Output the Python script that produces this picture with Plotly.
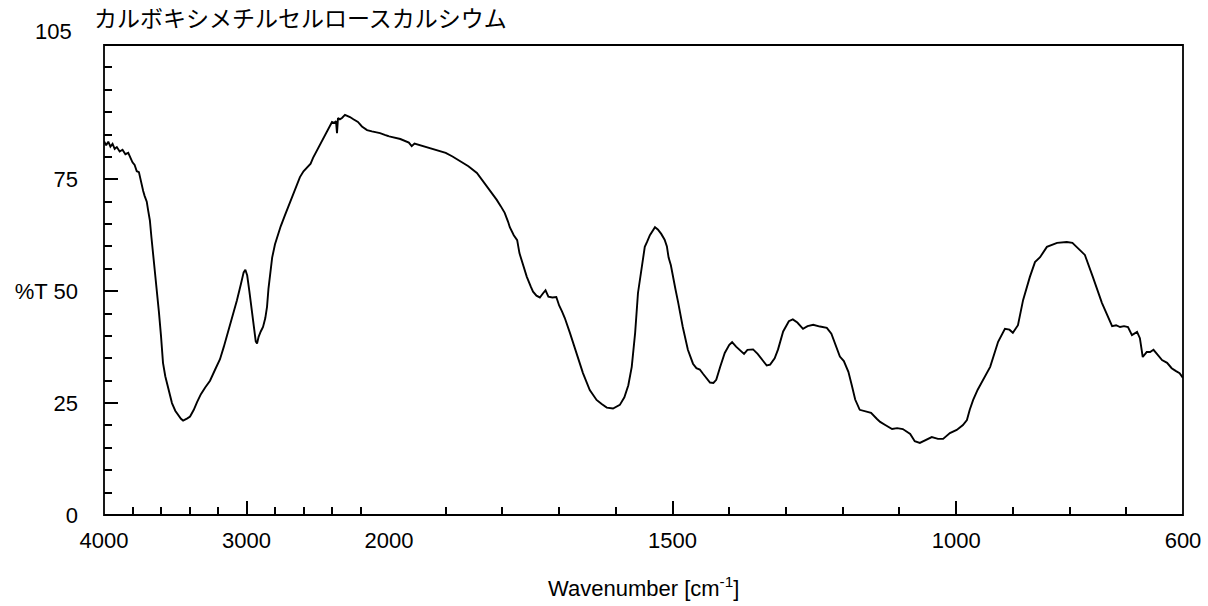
import plotly.graph_objects as go

# IR spectrum of carboxymethylcellulose calcium (wavenumber in cm-1, %T)
wavenumber = [
    4000, 3985, 3970, 3955, 3940, 3925, 3910, 3890, 3870, 3850, 3830, 3815,
    3800, 3785, 3770, 3755, 3745, 3735, 3725, 3715, 3700, 3690, 3678, 3667,
    3656, 3642, 3628, 3615, 3600, 3586, 3570, 3555, 3540, 3523, 3500, 3481,
    3460, 3445, 3430, 3415, 3396, 3370, 3347, 3320, 3290, 3256, 3220, 3186,
    3160, 3137, 3100, 3067, 3040, 3020, 3008, 2995, 2980, 2965, 2950, 2935,
    2926, 2915, 2900, 2884, 2868, 2856, 2846, 2835, 2820, 2800, 2780, 2760,
    2730, 2695, 2660, 2625, 2600, 2575, 2550, 2533, 2500, 2463, 2430, 2400,
    2385, 2372, 2365, 2358, 2345, 2330, 2309, 2290, 2274, 2250, 2218, 2190,
    2154, 2120, 2090, 2063, 2030, 2000,
    1993, 1980, 1965, 1960, 1955, 1940, 1925, 1915, 1900, 1888, 1875, 1860,
    1845, 1836, 1827, 1818, 1810, 1803, 1796, 1790, 1787, 1780, 1774, 1770,
    1765, 1757, 1750, 1746, 1740, 1734, 1728, 1724, 1719, 1712, 1705, 1700,
    1695, 1690, 1681, 1669, 1658, 1646, 1634, 1625, 1616, 1605, 1593, 1585,
    1578, 1572, 1566, 1561, 1554, 1549, 1545, 1540, 1531, 1526, 1520, 1514,
    1510, 1507, 1503, 1499, 1495, 1490, 1482, 1473, 1464, 1458, 1452, 1446,
    1440, 1434, 1428, 1423, 1416, 1408, 1400, 1395, 1388, 1380, 1374, 1368,
    1358, 1350, 1342, 1334, 1328, 1320, 1314, 1305, 1295, 1288, 1280, 1270,
    1262, 1252, 1240, 1228, 1220, 1212, 1205, 1198, 1190, 1184, 1178, 1170,
    1160, 1150, 1140, 1134, 1125, 1113, 1104, 1094, 1081, 1073, 1064, 1051,
    1043, 1032, 1023, 1011, 999, 988, 981, 976, 970, 962, 953, 940,
    926, 914, 906, 900, 891, 882, 870, 861, 852, 840, 822, 805,
    795, 787, 773, 759, 743, 725, 718, 711, 704, 697, 690, 681,
    676, 671, 664, 658, 652, 646, 637, 628, 620, 613, 606, 600,
]
transmittance = [
    83.5, 82.6, 83.4, 82.3, 82.9, 81.8, 82.2, 81.2, 81.6, 80.6, 80.9, 79.8,
    78.8, 78.2, 76.8, 76.6, 75.2, 73.2, 72.4, 71.3, 70.0, 68.0, 65.8, 62.0,
    58.5, 54.5, 50.9, 45.5, 40.0, 34.0, 31.0, 29.0, 27.0, 25.0, 23.3, 22.3,
    21.5, 21.1, 21.3, 21.6, 22.0, 23.5, 25.2, 27.0, 28.5, 30.0, 32.5, 34.8,
    37.5, 40.0, 44.0, 48.0, 51.5, 54.2, 54.8, 53.5, 50.0, 46.0, 42.0, 38.8,
    38.3, 39.8, 41.0, 42.0, 44.0, 46.5, 50.5, 54.1, 57.5, 60.5, 62.8, 64.5,
    67.0, 69.8, 72.5, 75.5, 76.8, 77.7, 78.5, 79.8, 81.8, 83.8, 86.0, 87.8,
    87.6, 88.0, 85.3, 88.7, 88.4, 88.7, 89.4, 89.2, 88.9, 88.4, 87.8, 86.8,
    86.0, 85.7, 85.5, 85.3, 84.9, 84.6,
    84.4, 84.0, 83.2, 82.4, 83.0, 82.4, 81.9, 81.5, 80.9, 80.1, 79.0, 77.9,
    76.4, 74.9, 73.3, 71.9, 70.4, 69.0, 67.5, 65.5, 64.3, 62.5, 61.4, 58.5,
    56.5, 53.2, 51.0, 49.9, 49.0, 48.6, 49.6, 50.2, 48.8, 48.6, 48.7, 46.8,
    45.5, 44.0, 40.7, 36.2, 31.7, 27.9, 25.7, 24.8, 24.0, 23.8, 24.6, 26.3,
    29.0, 33.1, 40.7, 49.6, 55.4, 59.9, 61.0, 62.5, 64.3, 63.8, 62.8, 61.5,
    60.0, 57.5, 55.8, 53.5, 50.5, 47.4, 42.0, 36.9, 33.8, 32.8, 32.5, 31.5,
    30.5, 29.6, 29.5, 30.2, 33.1, 36.2, 38.0, 38.6, 37.6, 36.6, 36.0, 36.9,
    37.0, 36.0, 34.6, 33.4, 33.6, 35.0, 37.0, 41.0, 43.3, 43.7, 43.0, 41.6,
    42.2, 42.5, 42.1, 41.8, 40.5, 38.0, 35.4, 34.4, 32.0, 29.0, 25.8, 23.5,
    23.1, 22.8, 21.5, 20.8, 20.1, 19.2, 19.4, 19.2, 18.1, 16.5, 16.1, 17.0,
    17.4, 17.0, 17.0, 18.3, 19.0, 20.1, 21.2, 23.5, 25.7, 28.0, 30.2, 33.1,
    38.7, 41.6, 41.4, 40.7, 42.4, 48.0, 53.2, 56.5, 57.6, 59.9, 60.8, 61.0,
    60.8, 59.9, 58.1, 53.2, 47.4, 42.2, 42.4, 42.0, 42.2, 42.0, 40.2, 40.9,
    39.5, 35.3, 36.4, 36.4, 36.9, 36.0, 34.6, 34.0, 32.8, 32.2, 31.7, 30.6,
]

title_text = "カルボキシメチルセルロースカルシウム"
x_title = "Wavenumber [cm<sup>-1</sup>]"

# high-wavenumber section (4000-2000) and expanded section (2000-600)
hi_major = [4000, 3000, 2000]
hi_minor = [3800, 3600, 3400, 3200, 2800, 2600, 2400, 2200]
lo_major = [1500, 1000, 600]
lo_minor = [1900, 1800, 1700, 1600, 1400, 1300, 1200, 1100, 900, 800, 700]
y_major = [0, 25, 50, 75]
y_major_text = ["0", "25", "%T 50", "75"]
y_minor = [5, 10, 15, 20, 30, 35, 40, 45, 55, 60, 65, 70, 80, 85, 90, 95, 100]
y_top = 105

FONT = "Liberation Sans, Arial, sans-serif"
FS = 22
BREAK = 2000
split = 285 / 1079  # fraction of plot width used by 4000-2000

hi_x = [w for w in wavenumber if w >= BREAK]
hi_y = [t for w, t in zip(wavenumber, transmittance) if w >= BREAK]
lo_x = [w for w in wavenumber if w <= BREAK]
lo_y = [t for w, t in zip(wavenumber, transmittance) if w <= BREAK]

line = dict(color="black", width=1.9)
fig = go.Figure()
fig.add_trace(go.Scatter(x=hi_x, y=hi_y, mode="lines", line=line,
                         xaxis="x", yaxis="y", showlegend=False))
fig.add_trace(go.Scatter(x=lo_x, y=lo_y, mode="lines", line=line,
                         xaxis="x2", yaxis="y", showlegend=False))

tick_common = dict(ticks="inside", tickwidth=1.6, tickcolor="black",
                   ticklen=14, showgrid=False, zeroline=False, showline=False,
                   automargin=False,
                   tickfont=dict(family=FONT, size=FS, color="black"))
minor_common = dict(ticks="inside", ticklen=8, tickwidth=1.6,
                    tickcolor="black", showgrid=False)

fig.update_layout(
    width=1208, height=606,
    margin=dict(l=104, r=25, t=45, b=91),
    plot_bgcolor="white", paper_bgcolor="white",
    title=dict(text=title_text, x=94 / 1208, xanchor="left", xref="container",
               y=1 - 19 / 606, yanchor="middle", yref="container",
               font=dict(family="Noto Sans CJK JP", size=23, color="black")),
    xaxis=dict(domain=[0, split], range=[4000, BREAK], tickvals=hi_major,
               ticktext=[str(v) for v in hi_major], anchor="y",
               ticklabelstandoff=10,
               minor=dict(tickvals=hi_minor, **minor_common), **tick_common),
    xaxis2=dict(domain=[split, 1], range=[BREAK, 600], tickvals=lo_major,
                ticktext=[str(v) for v in lo_major], anchor="y",
                ticklabelstandoff=10,
                minor=dict(tickvals=lo_minor, **minor_common), **tick_common),
    yaxis=dict(range=[0, y_top], tickvals=y_major, ticktext=y_major_text,
               anchor="x", ticklabelstandoff=25,
               minor=dict(tickvals=y_minor, **minor_common), **tick_common),
    shapes=[dict(type="rect", xref="paper", yref="paper", x0=0, x1=1, y0=0, y1=1,
                 line=dict(color="black", width=1.8), fillcolor="rgba(0,0,0,0)")],
    annotations=[
        dict(text=str(y_top), xref="paper", yref="y", x=0, y=y_top,
             xanchor="right", yanchor="middle", xshift=-30, yshift=14,
             showarrow=False, font=dict(family=FONT, size=FS, color="black")),
        dict(text=x_title, xref="paper", yref="paper", x=0.5, y=-72 / 470,
             xanchor="center", yanchor="middle", showarrow=False,
             font=dict(family=FONT, size=FS, color="black")),
    ],
)

fig.write_html("out.html")
